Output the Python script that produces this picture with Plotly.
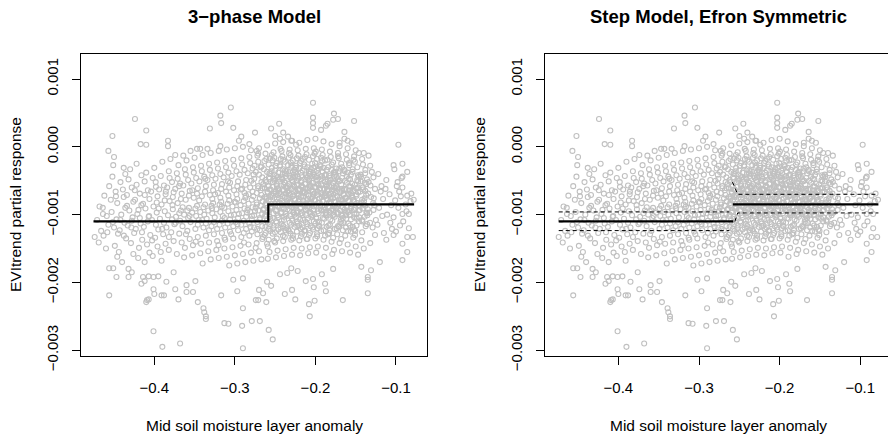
import plotly.graph_objects as go

# ---------------- data (x: soil moisture anomaly, y: partial response in units of 1e-3) -------------
upper_outliers = [
    (-0.452, 0.16), (-0.424, 0.41), (-0.410, 0.24), (-0.417, 0.04), (-0.410, 0.03), (-0.457, -0.06),
    (-0.450, -0.15), (-0.451, -0.27), (-0.438, -0.31), (-0.383, 0.09), (-0.383, 0.01), (-0.374, -0.12),
    (-0.364, -0.13), (-0.355, -0.06), (-0.347, -0.03), (-0.343, -0.03), (-0.334, -0.03), (-0.331, 0.27),
    (-0.318, 0.46), (-0.317, 0.35), (-0.305, 0.58), (-0.302, 0.28), (-0.318, 0.01), (-0.292, 0.15),
    (-0.295, 0.09), (-0.282, 0.04), (-0.275, 0.21), (-0.273, -0.06), (-0.271, -0.10), (-0.255, 0.27),
    (-0.250, 0.16), (-0.245, 0.34), (-0.244, 0.12), (-0.240, 0.21), (-0.234, 0.15), (-0.229, 0.09),
    (-0.224, 0.03), (-0.203, 0.65), (-0.203, 0.43), (-0.203, 0.35), (-0.203, 0.28), (-0.193, 0.25),
    (-0.187, 0.31), (-0.185, 0.34), (-0.177, 0.49), (-0.178, 0.40), (-0.172, 0.41), (-0.152, 0.38),
    (-0.164, 0.22), (-0.164, 0.12), (-0.160, 0.09), (-0.155, 0.06), (-0.170, 0.06), (-0.146, -0.09),
    (-0.134, -0.13), (-0.097, 0.03), (-0.103, -0.27), (-0.092, -0.25), (-0.086, -0.37), (-0.092, -0.44),
    (-0.081, -0.69), (-0.078, -0.78), (-0.092, -0.99), (-0.084, -0.99), (-0.464, -0.90),
]

lower_outliers = [
    (-0.474, -1.33), (-0.456, -1.79), (-0.451, -1.79), (-0.447, -1.92), (-0.456, -2.19), (-0.432, -1.80),
    (-0.432, -1.92), (-0.428, -1.85), (-0.416, -2.02), (-0.414, -1.92), (-0.412, -1.98), (-0.407, -1.91),
    (-0.401, -1.92), (-0.395, -1.91), (-0.401, -2.10), (-0.400, -2.17), (-0.410, -2.29), (-0.409, -2.26),
    (-0.407, -2.25), (-0.391, -2.19), (-0.388, -2.19), (-0.401, -2.72), (-0.390, -2.95), (-0.368, -2.90),
    (-0.370, -2.25), (-0.374, -2.10), (-0.385, -1.99), (-0.376, -1.85), (-0.360, -2.04), (-0.360, -2.14),
    (-0.352, -2.14), (-0.349, -1.98), (-0.346, -2.29), (-0.339, -2.38), (-0.338, -2.44), (-0.336, -2.50),
    (-0.336, -2.54), (-0.317, -2.19), (-0.313, -2.60), (-0.308, -2.61), (-0.302, -1.96), (-0.297, -2.13),
    (-0.290, -1.94), (-0.290, -2.38), (-0.291, -2.64), (-0.290, -2.97), (-0.279, -2.57), (-0.269, -2.57),
    (-0.258, -2.70), (-0.253, -2.84), (-0.274, -2.26), (-0.271, -2.26), (-0.270, -2.11), (-0.265, -2.16),
    (-0.261, -2.29), (-0.255, -2.05), (-0.260, -1.99), (-0.244, -1.88), (-0.238, -2.17), (-0.229, -2.11),
    (-0.225, -2.25), (-0.235, -1.86), (-0.230, -1.79), (-0.222, -1.83), (-0.212, -1.98), (-0.208, -2.32),
    (-0.207, -2.50), (-0.201, -2.27), (-0.203, -1.95), (-0.202, -2.07), (-0.192, -1.88), (-0.188, -2.02),
    (-0.187, -2.13), (-0.178, -1.80), (-0.166, -2.26), (-0.143, -1.77), (-0.135, -2.16), (-0.135, -1.92),
    (-0.135, -1.96), (-0.131, -1.82), (-0.120, -1.70), (-0.092, -1.67), (-0.086, -1.55), (-0.092, -1.43),
    (-0.086, -1.33), (-0.079, -1.33), (-0.103, -1.30), (-0.112, -1.37),
]

core_left = [
    (-0.471, -1.08), (-0.468, -0.88), (-0.466, -1.24), (-0.469, -1.41),
    (-0.462, -0.72), (-0.459, -1.02), (-0.457, -1.15), (-0.463, -1.31), (-0.456, -0.58), (-0.460, -1.50),
    (-0.452, -0.44), (-0.448, -0.66), (-0.446, -0.83), (-0.453, -0.96), (-0.447, -1.07), (-0.450, -1.19),
    (-0.445, -1.28), (-0.449, -1.46), (-0.454, -0.78), (-0.446, -1.62),
    (-0.442, -0.52), (-0.438, -0.74), (-0.436, -0.90), (-0.441, -1.00), (-0.437, -1.12), (-0.443, -1.23),
    (-0.435, -1.35), (-0.439, -0.63), (-0.444, -1.55), (-0.436, -0.40), (-0.440, -1.70),
    (-0.432, -0.48), (-0.428, -0.60), (-0.426, -0.81), (-0.431, -0.94), (-0.427, -1.04), (-0.433, -1.16),
    (-0.425, -1.27), (-0.429, -1.42), (-0.434, -0.71), (-0.426, -1.58), (-0.430, -0.33), (-0.428, -1.09),
    (-0.422, -0.56), (-0.418, -0.69), (-0.416, -0.86), (-0.421, -0.99), (-0.417, -1.13), (-0.423, -1.21),
    (-0.415, -1.37), (-0.419, -1.49), (-0.424, -0.78), (-0.416, -0.42), (-0.420, -1.64), (-0.418, -1.05),
    (-0.422, -0.25),
    (-0.412, -0.51), (-0.408, -0.64), (-0.406, -0.77), (-0.411, -0.91), (-0.407, -1.03), (-0.413, -1.18),
    (-0.405, -1.30), (-0.409, -1.44), (-0.414, -0.84), (-0.406, -1.56), (-0.410, -0.38), (-0.408, -1.10),
    (-0.412, -1.70),
    (-0.402, -0.46), (-0.398, -0.59), (-0.396, -0.73), (-0.401, -0.88), (-0.397, -0.97), (-0.403, -1.08),
    (-0.395, -1.22), (-0.399, -1.34), (-0.404, -0.66), (-0.396, -1.47), (-0.400, -0.31), (-0.398, -1.15),
    (-0.402, -1.61), (-0.397, -0.82),
    (-0.392, -0.43), (-0.388, -0.57), (-0.386, -0.70), (-0.391, -0.85), (-0.387, -0.95), (-0.393, -1.06),
    (-0.385, -1.19), (-0.389, -1.29), (-0.394, -0.63), (-0.386, -1.43), (-0.390, -0.22), (-0.388, -1.12),
    (-0.392, -1.55), (-0.387, -0.79), (-0.391, -1.68),
    (-0.382, -0.36), (-0.378, -0.52), (-0.376, -0.67), (-0.381, -0.80), (-0.377, -0.92), (-0.383, -1.01),
    (-0.375, -1.14), (-0.379, -1.26), (-0.384, -0.60), (-0.376, -1.39), (-0.380, -0.18), (-0.378, -1.07),
    (-0.382, -1.52), (-0.377, -0.74), (-0.381, -0.46),
    (-0.372, -0.39), (-0.368, -0.54), (-0.366, -0.69), (-0.371, -0.83), (-0.367, -0.94), (-0.373, -1.03),
    (-0.365, -1.17), (-0.369, -1.28), (-0.374, -0.62), (-0.366, -1.41), (-0.370, -0.27), (-0.368, -1.09),
    (-0.372, -1.58), (-0.367, -0.77), (-0.371, -0.47), (-0.369, -0.98),
    (-0.362, -0.33), (-0.358, -0.49), (-0.356, -0.65), (-0.361, -0.78), (-0.357, -0.90), (-0.363, -1.00),
    (-0.355, -1.11), (-0.359, -1.24), (-0.364, -0.57), (-0.356, -1.36), (-0.360, -0.20), (-0.358, -1.05),
    (-0.362, -1.49), (-0.357, -0.72), (-0.361, -0.41), (-0.359, -0.94), (-0.363, -1.63),
    (-0.352, -0.30), (-0.348, -0.46), (-0.346, -0.61), (-0.351, -0.75), (-0.347, -0.87), (-0.353, -0.97),
    (-0.345, -1.08), (-0.349, -1.21), (-0.354, -0.54), (-0.346, -1.33), (-0.350, -0.16), (-0.348, -1.02),
    (-0.352, -1.45), (-0.347, -0.69), (-0.351, -0.38), (-0.349, -0.91), (-0.353, -1.60), (-0.346, -1.15),
]

core_middle = [
    (-0.342, -0.28), (-0.338, -0.44), (-0.336, -0.58), (-0.341, -0.73), (-0.337, -0.85), (-0.343, -0.96),
    (-0.335, -1.06), (-0.339, -1.19), (-0.344, -0.51), (-0.336, -1.31), (-0.340, -0.12), (-0.338, -1.00),
    (-0.342, -1.43), (-0.337, -0.66), (-0.341, -0.36), (-0.339, -0.89), (-0.343, -1.57), (-0.336, -1.13),
    (-0.340, -1.72),
    (-0.332, -0.25), (-0.328, -0.42), (-0.326, -0.56), (-0.331, -0.71), (-0.327, -0.83), (-0.333, -0.94),
    (-0.325, -1.04), (-0.329, -1.17), (-0.334, -0.49), (-0.326, -1.29), (-0.330, -0.09), (-0.328, -0.98),
    (-0.332, -1.41), (-0.327, -0.64), (-0.331, -0.34), (-0.329, -0.87), (-0.333, -1.54), (-0.326, -1.11),
    (-0.330, -1.66), (-0.328, -0.77),
    (-0.322, -0.23), (-0.318, -0.40), (-0.316, -0.55), (-0.321, -0.68), (-0.317, -0.81), (-0.323, -0.92),
    (-0.315, -1.02), (-0.319, -1.15), (-0.324, -0.47), (-0.316, -1.27), (-0.320, -0.06), (-0.318, -0.96),
    (-0.322, -1.39), (-0.317, -0.62), (-0.321, -0.32), (-0.319, -0.85), (-0.323, -1.52), (-0.316, -1.09),
    (-0.320, -1.64), (-0.318, -0.75), (-0.322, -1.21),
    (-0.312, -0.21), (-0.308, -0.38), (-0.306, -0.53), (-0.311, -0.66), (-0.307, -0.79), (-0.313, -0.90),
    (-0.305, -1.01), (-0.309, -1.13), (-0.314, -0.45), (-0.306, -1.25), (-0.310, -0.04), (-0.308, -0.95),
    (-0.312, -1.37), (-0.307, -0.60), (-0.311, -0.30), (-0.309, -0.84), (-0.313, -1.50), (-0.306, -1.07),
    (-0.310, -1.62), (-0.308, -0.72), (-0.312, -1.19), (-0.307, -1.75),
    (-0.302, -0.19), (-0.298, -0.36), (-0.296, -0.51), (-0.301, -0.64), (-0.297, -0.77), (-0.303, -0.88),
    (-0.295, -0.99), (-0.299, -1.11), (-0.304, -0.43), (-0.296, -1.23), (-0.300, -0.02), (-0.298, -0.93),
    (-0.302, -1.35), (-0.297, -0.58), (-0.301, -0.28), (-0.299, -0.82), (-0.303, -1.48), (-0.296, -1.05),
    (-0.300, -1.60), (-0.298, -0.70), (-0.302, -1.17), (-0.297, -1.72), (-0.301, -1.00),
    (-0.292, -0.17), (-0.288, -0.34), (-0.286, -0.49), (-0.291, -0.62), (-0.287, -0.75), (-0.293, -0.86),
    (-0.285, -0.97), (-0.289, -1.09), (-0.294, -0.41), (-0.286, -1.21), (-0.290, 0.00), (-0.288, -0.91),
    (-0.292, -1.33), (-0.287, -0.56), (-0.291, -0.26), (-0.289, -0.80), (-0.293, -1.46), (-0.286, -1.03),
    (-0.290, -1.58), (-0.288, -0.68), (-0.292, -1.15), (-0.287, -1.70), (-0.291, -0.98), (-0.289, -1.27),
    (-0.282, -0.15), (-0.278, -0.32), (-0.276, -0.47), (-0.281, -0.60), (-0.277, -0.73), (-0.283, -0.84),
    (-0.275, -0.95), (-0.279, -1.07), (-0.284, -0.39), (-0.276, -1.19), (-0.280, -0.05), (-0.278, -0.89),
    (-0.282, -1.31), (-0.277, -0.54), (-0.281, -0.24), (-0.279, -0.78), (-0.283, -1.44), (-0.276, -1.01),
    (-0.280, -1.56), (-0.278, -0.66), (-0.282, -1.13), (-0.277, -1.68), (-0.281, -0.96), (-0.279, -1.25),
    (-0.283, -0.70),
    (-0.272, -0.13), (-0.268, -0.30), (-0.266, -0.45), (-0.271, -0.58), (-0.267, -0.71), (-0.273, -0.82),
    (-0.265, -0.93), (-0.269, -1.05), (-0.274, -0.37), (-0.266, -1.17), (-0.270, -0.02), (-0.268, -0.87),
    (-0.272, -1.29), (-0.267, -0.52), (-0.271, -0.22), (-0.269, -0.76), (-0.273, -1.42), (-0.266, -0.99),
    (-0.270, -1.54), (-0.268, -0.64), (-0.272, -1.11), (-0.267, -1.66), (-0.271, -0.94), (-0.269, -1.23),
    (-0.273, -0.68), (-0.266, -1.36), (-0.270, -0.41),
]

core_dense = [
    (-0.262, -0.10), (-0.258, -0.26), (-0.256, -0.40), (-0.261, -0.52), (-0.257, -0.63), (-0.263, -0.74),
    (-0.255, -0.84), (-0.259, -0.95), (-0.264, -0.33), (-0.256, -1.06), (-0.260, 0.02), (-0.258, -0.79),
    (-0.262, -1.18), (-0.257, -0.47), (-0.261, -0.18), (-0.259, -0.68), (-0.263, -1.30), (-0.256, -0.90),
    (-0.260, -1.43), (-0.258, -0.57), (-0.262, -1.00), (-0.257, -1.55), (-0.261, -0.86), (-0.259, -1.12),
    (-0.263, -0.61), (-0.256, -1.24), (-0.260, -0.37), (-0.264, -0.92), (-0.255, -0.71), (-0.258, -1.37),
    (-0.262, -0.49), (-0.257, -1.03), (-0.261, -0.77), (-0.259, -1.65),
    (-0.252, -0.08), (-0.248, -0.24), (-0.246, -0.38), (-0.251, -0.50), (-0.247, -0.61), (-0.253, -0.72),
    (-0.245, -0.82), (-0.249, -0.93), (-0.254, -0.31), (-0.246, -1.04), (-0.250, 0.05), (-0.248, -0.77),
    (-0.252, -1.16), (-0.247, -0.45), (-0.251, -0.16), (-0.249, -0.66), (-0.253, -1.28), (-0.246, -0.88),
    (-0.250, -1.41), (-0.248, -0.55), (-0.252, -0.98), (-0.247, -1.53), (-0.251, -0.84), (-0.249, -1.10),
    (-0.253, -0.59), (-0.246, -1.22), (-0.250, -0.35), (-0.254, -0.90), (-0.245, -0.69), (-0.248, -1.35),
    (-0.252, -0.47), (-0.247, -1.01), (-0.251, -0.75), (-0.249, -1.63), (-0.253, -0.20), (-0.246, -0.63),
    (-0.242, -0.06), (-0.238, -0.22), (-0.236, -0.36), (-0.241, -0.48), (-0.237, -0.59), (-0.243, -0.70),
    (-0.235, -0.80), (-0.239, -0.91), (-0.244, -0.29), (-0.236, -1.02), (-0.240, 0.07), (-0.238, -0.75),
    (-0.242, -1.14), (-0.237, -0.43), (-0.241, -0.14), (-0.239, -0.64), (-0.243, -1.26), (-0.236, -0.86),
    (-0.240, -1.39), (-0.238, -0.53), (-0.242, -0.96), (-0.237, -1.51), (-0.241, -0.82), (-0.239, -1.08),
    (-0.243, -0.57), (-0.236, -1.20), (-0.240, -0.33), (-0.244, -0.88), (-0.235, -0.67), (-0.238, -1.33),
    (-0.242, -0.45), (-0.237, -0.99), (-0.241, -0.73), (-0.239, -1.61), (-0.243, -0.18), (-0.236, -0.61),
    (-0.240, -1.17), (-0.238, -0.39),
    (-0.232, -0.04), (-0.228, -0.20), (-0.226, -0.34), (-0.231, -0.46), (-0.227, -0.57), (-0.233, -0.68),
    (-0.225, -0.78), (-0.229, -0.89), (-0.234, -0.27), (-0.226, -1.00), (-0.230, 0.09), (-0.228, -0.73),
    (-0.232, -1.12), (-0.227, -0.41), (-0.231, -0.12), (-0.229, -0.62), (-0.233, -1.24), (-0.226, -0.84),
    (-0.230, -1.37), (-0.228, -0.51), (-0.232, -0.94), (-0.227, -1.49), (-0.231, -0.80), (-0.229, -1.06),
    (-0.233, -0.55), (-0.226, -1.18), (-0.230, -0.31), (-0.234, -0.86), (-0.225, -0.65), (-0.228, -1.31),
    (-0.232, -0.43), (-0.227, -0.97), (-0.231, -0.71), (-0.229, -1.59), (-0.233, -0.16), (-0.226, -0.59),
    (-0.230, -1.15), (-0.228, -0.37),
    (-0.222, -0.05), (-0.218, -0.21), (-0.216, -0.35), (-0.221, -0.47), (-0.217, -0.58), (-0.223, -0.69),
    (-0.215, -0.79), (-0.219, -0.90), (-0.224, -0.28), (-0.216, -1.01), (-0.220, 0.06), (-0.218, -0.74),
    (-0.222, -1.13), (-0.217, -0.42), (-0.221, -0.13), (-0.219, -0.63), (-0.223, -1.25), (-0.216, -0.85),
    (-0.220, -1.38), (-0.218, -0.52), (-0.222, -0.95), (-0.217, -1.50), (-0.221, -0.81), (-0.219, -1.07),
    (-0.223, -0.56), (-0.216, -1.19), (-0.220, -0.32), (-0.224, -0.87), (-0.215, -0.66), (-0.218, -1.32),
    (-0.222, -0.44), (-0.217, -0.98), (-0.221, -0.72), (-0.219, -1.60), (-0.223, -0.17), (-0.216, -0.60),
    (-0.220, -1.16), (-0.218, -0.38),
    (-0.212, -0.03), (-0.208, -0.19), (-0.206, -0.33), (-0.211, -0.45), (-0.207, -0.56), (-0.213, -0.67),
    (-0.205, -0.77), (-0.209, -0.88), (-0.214, -0.26), (-0.206, -0.99), (-0.210, 0.10), (-0.208, -0.72),
    (-0.212, -1.11), (-0.207, -0.40), (-0.211, -0.11), (-0.209, -0.61), (-0.213, -1.23), (-0.206, -0.83),
    (-0.210, -1.36), (-0.208, -0.50), (-0.212, -0.93), (-0.207, -1.48), (-0.211, -0.79), (-0.209, -1.05),
    (-0.213, -0.54), (-0.206, -1.17), (-0.210, -0.30), (-0.214, -0.85), (-0.205, -0.64), (-0.208, -1.30),
    (-0.212, -0.42), (-0.207, -0.96), (-0.211, -0.70), (-0.209, -1.57), (-0.213, -0.15), (-0.206, -0.58),
    (-0.210, -1.14), (-0.208, -0.36),
    (-0.202, -0.02), (-0.198, -0.18), (-0.196, -0.32), (-0.201, -0.44), (-0.197, -0.55), (-0.203, -0.66),
    (-0.195, -0.76), (-0.199, -0.87), (-0.204, -0.25), (-0.196, -0.98), (-0.200, 0.12), (-0.198, -0.71),
    (-0.202, -1.10), (-0.197, -0.39), (-0.201, -0.10), (-0.199, -0.60), (-0.203, -1.22), (-0.196, -0.82),
    (-0.200, -1.35), (-0.198, -0.49), (-0.202, -0.92), (-0.197, -1.47), (-0.201, -0.78), (-0.199, -1.04),
    (-0.203, -0.53), (-0.196, -1.16), (-0.200, -0.29), (-0.204, -0.84), (-0.195, -0.63), (-0.198, -1.29),
    (-0.202, -0.41), (-0.197, -0.95), (-0.201, -0.69), (-0.199, -1.56), (-0.203, -0.14), (-0.196, -0.57),
    (-0.200, -1.13), (-0.198, -0.35),
    (-0.192, -0.04), (-0.188, -0.20), (-0.186, -0.34), (-0.191, -0.46), (-0.187, -0.57), (-0.193, -0.68),
    (-0.185, -0.78), (-0.189, -0.89), (-0.194, -0.27), (-0.186, -1.00), (-0.190, 0.08), (-0.188, -0.73),
    (-0.192, -1.12), (-0.187, -0.41), (-0.191, -0.12), (-0.189, -0.62), (-0.193, -1.24), (-0.186, -0.84),
    (-0.190, -1.37), (-0.188, -0.51), (-0.192, -0.94), (-0.187, -1.49), (-0.191, -0.80), (-0.189, -1.06),
    (-0.193, -0.55), (-0.186, -1.18), (-0.190, -0.31), (-0.194, -0.86), (-0.185, -0.65), (-0.188, -1.31),
    (-0.192, -0.43), (-0.187, -0.97), (-0.191, -0.71), (-0.189, -1.62), (-0.193, -0.16), (-0.186, -0.59),
    (-0.182, -0.07), (-0.178, -0.23), (-0.176, -0.37), (-0.181, -0.49), (-0.177, -0.60), (-0.183, -0.71),
    (-0.175, -0.81), (-0.179, -0.92), (-0.184, -0.30), (-0.176, -1.03), (-0.180, 0.04), (-0.178, -0.76),
    (-0.182, -1.15), (-0.177, -0.44), (-0.181, -0.15), (-0.179, -0.65), (-0.183, -1.27), (-0.176, -0.87),
    (-0.180, -1.40), (-0.178, -0.54), (-0.182, -0.97), (-0.177, -1.52), (-0.181, -0.83), (-0.179, -1.09),
    (-0.183, -0.58), (-0.176, -1.21), (-0.180, -0.34), (-0.184, -0.89), (-0.175, -0.68), (-0.178, -1.34),
    (-0.182, -0.46), (-0.177, -1.00), (-0.181, -0.74), (-0.179, -1.58),
    (-0.172, -0.09), (-0.168, -0.25), (-0.166, -0.39), (-0.171, -0.51), (-0.167, -0.62), (-0.173, -0.73),
    (-0.165, -0.83), (-0.169, -0.94), (-0.174, -0.32), (-0.166, -1.05), (-0.170, 0.01), (-0.168, -0.78),
    (-0.172, -1.17), (-0.167, -0.46), (-0.171, -0.17), (-0.169, -0.67), (-0.173, -1.29), (-0.166, -0.89),
    (-0.170, -1.42), (-0.168, -0.56), (-0.172, -0.99), (-0.167, -1.54), (-0.171, -0.85), (-0.169, -1.11),
    (-0.173, -0.60), (-0.166, -1.23), (-0.170, -0.36), (-0.174, -0.91), (-0.165, -0.70), (-0.168, -1.36),
    (-0.172, -0.48), (-0.167, -1.02),
    (-0.162, -0.11), (-0.158, -0.27), (-0.156, -0.41), (-0.161, -0.53), (-0.157, -0.64), (-0.163, -0.75),
    (-0.155, -0.85), (-0.159, -0.96), (-0.164, -0.34), (-0.156, -1.07), (-0.160, -0.02), (-0.158, -0.80),
    (-0.162, -1.19), (-0.157, -0.48), (-0.161, -0.19), (-0.159, -0.69), (-0.163, -1.31), (-0.156, -0.91),
    (-0.160, -1.44), (-0.158, -0.58), (-0.162, -1.01), (-0.157, -1.56), (-0.161, -0.87), (-0.159, -1.13),
    (-0.163, -0.62), (-0.156, -1.25), (-0.160, -0.38), (-0.164, -0.93), (-0.155, -0.72),
    (-0.152, -0.14), (-0.148, -0.30), (-0.146, -0.44), (-0.151, -0.56), (-0.147, -0.67), (-0.153, -0.78),
    (-0.145, -0.88), (-0.149, -0.99), (-0.154, -0.37), (-0.146, -1.10), (-0.150, -0.05), (-0.148, -0.83),
    (-0.152, -1.22), (-0.147, -0.51), (-0.151, -0.22), (-0.149, -0.72), (-0.153, -1.34), (-0.146, -0.94),
    (-0.150, -1.47), (-0.148, -0.61), (-0.152, -1.04), (-0.147, -1.59), (-0.151, -0.90), (-0.149, -1.16),
    (-0.153, -0.65),
]

core_fill = [
    (-0.2647, -0.55), (-0.2613, -0.83), (-0.2581, -1.21), (-0.2669, -0.29), (-0.2624, -1.02), (-0.2596, -0.66),
    (-0.2652, -1.33), (-0.2577, -0.45), (-0.2638, -0.91), (-0.2606, -0.74), (-0.2591, -1.47), (-0.2661, -0.61),
    (-0.2543, -0.36), (-0.2517, -0.69), (-0.2489, -0.95), (-0.2562, -1.14), (-0.2528, -0.52), (-0.2474, -0.81),
    (-0.2556, -0.63), (-0.2502, -1.26), (-0.2485, -0.43), (-0.2531, -1.05), (-0.2469, -0.71), (-0.2549, -0.88),
    (-0.2511, -1.39),
    (-0.2446, -0.47), (-0.2412, -0.79), (-0.2388, -1.03), (-0.2459, -0.62), (-0.2421, -0.91), (-0.2377, -0.35),
    (-0.2434, -1.19), (-0.2396, -0.56), (-0.2365, -0.84), (-0.2441, -0.27), (-0.2403, -1.31), (-0.2371, -0.69),
    (-0.2428, -0.98),
    (-0.2343, -0.58), (-0.2318, -0.83), (-0.2286, -1.09), (-0.2357, -0.40), (-0.2322, -0.71), (-0.2274, -0.96),
    (-0.2339, -1.22), (-0.2293, -0.49), (-0.2265, -0.77), (-0.2347, -0.92), (-0.2305, -0.23), (-0.2279, -1.35),
    (-0.2331, -0.64),
    (-0.2248, -0.44), (-0.2213, -0.70), (-0.2187, -0.99), (-0.2256, -0.86), (-0.2224, -1.17), (-0.2171, -0.57),
    (-0.2239, -0.31), (-0.2196, -0.79), (-0.2168, -1.28), (-0.2243, -1.04), (-0.2205, -0.62), (-0.2179, -0.90),
    (-0.2231, -0.50),
    (-0.2144, -0.68), (-0.2117, -0.92), (-0.2082, -0.39), (-0.2153, -1.08), (-0.2126, -0.55), (-0.2075, -0.81),
    (-0.2138, -1.24), (-0.2097, -0.46), (-0.2063, -0.97), (-0.2149, -0.73), (-0.2108, -1.36), (-0.2071, -0.60),
    (-0.2131, -0.87),
    (-0.2046, -0.53), (-0.2011, -0.79), (-0.1987, -1.06), (-0.2058, -0.37), (-0.2023, -0.94), (-0.1974, -0.66),
    (-0.2037, -1.19), (-0.1993, -0.45), (-0.1966, -0.83), (-0.2042, -1.01), (-0.2004, -0.24), (-0.1978, -1.32),
    (-0.2029, -0.70),
    (-0.1943, -0.61), (-0.1915, -0.87), (-0.1884, -0.42), (-0.1957, -1.11), (-0.1921, -0.74), (-0.1872, -0.98),
    (-0.1936, -0.29), (-0.1898, -1.23), (-0.1867, -0.55), (-0.1948, -0.82), (-0.1906, -1.05), (-0.1879, -0.68),
    (-0.1932, -0.93),
    (-0.1847, -0.49), (-0.1812, -0.76), (-0.1786, -1.01), (-0.1855, -0.63), (-0.1826, -0.88), (-0.1773, -0.38),
    (-0.1838, -1.16), (-0.1794, -0.57), (-0.1765, -0.81), (-0.1843, -1.29), (-0.1807, -0.69), (-0.1779, -0.94),
    (-0.1831, -0.43),
    (-0.1744, -0.58), (-0.1716, -0.84), (-0.1683, -1.07), (-0.1757, -0.41), (-0.1722, -0.97), (-0.1671, -0.65),
    (-0.1736, -1.20), (-0.1695, -0.50), (-0.1664, -0.79), (-0.1748, -0.90), (-0.1703, -0.32), (-0.1677, -1.13),
    (-0.1729, -0.72),
    (-0.1646, -0.63), (-0.1613, -0.88), (-0.1588, -0.47), (-0.1654, -1.12), (-0.1621, -0.76), (-0.1574, -1.00),
    (-0.1637, -0.36), (-0.1596, -1.24), (-0.1567, -0.59), (-0.1642, -0.84), (-0.1605, -0.95), (-0.1578, -0.70),
    (-0.1544, -0.54), (-0.1518, -0.80), (-0.1486, -1.06), (-0.1558, -0.68), (-0.1523, -0.93), (-0.1473, -0.42),
    (-0.1536, -1.18), (-0.1497, -0.61), (-0.1466, -0.86), (-0.1541, -0.75), (-0.1509, -1.30),
    (-0.1443, -0.66), (-0.1414, -0.91), (-0.1387, -0.53), (-0.1456, -1.04), (-0.1421, -0.78), (-0.1376, -1.17),
    (-0.1435, -0.44), (-0.1398, -0.85), (-0.1368, -0.97),
    (-0.1345, -0.69), (-0.1317, -0.57), (-0.1283, -0.83), (-0.1356, -1.01), (-0.1322, -1.12), (-0.1276, -0.76),
]

core_fill2 = [
    (-0.2633, -0.21), (-0.2594, -0.97), (-0.2571, -0.39), (-0.2619, -1.27), (-0.2588, -0.58), (-0.2655, -0.80),
    (-0.2602, -1.09), (-0.2566, -0.17), (-0.2537, -0.90), (-0.2496, -0.28), (-0.2523, -1.20), (-0.2478, -0.58),
    (-0.2559, -0.74), (-0.2507, -0.47), (-0.2482, -1.12), (-0.2541, -0.12), (-0.2437, -0.83), (-0.2398, -0.19),
    (-0.2419, -1.09), (-0.2381, -0.52), (-0.2452, -0.68), (-0.2406, -0.40), (-0.2369, -1.23), (-0.2433, -0.03),
    (-0.2336, -0.76), (-0.2297, -0.28), (-0.2314, -1.02), (-0.2283, -0.45), (-0.2352, -0.60), (-0.2309, -1.28),
    (-0.2271, -0.87), (-0.2327, -0.09), (-0.2234, -0.97), (-0.2193, -0.24), (-0.2216, -0.64), (-0.2182, -1.21),
    (-0.2251, -0.37), (-0.2207, -0.84), (-0.2174, -0.50), (-0.2229, -1.10), (-0.2133, -0.29), (-0.2094, -0.77),
    (-0.2115, -1.01), (-0.2079, -0.48), (-0.2156, -0.18), (-0.2103, -0.90), (-0.2068, -1.27), (-0.2124, -0.62),
    (-0.2035, -0.74), (-0.1996, -0.07), (-0.2018, -0.88), (-0.1983, -0.43), (-0.2052, -1.03), (-0.2007, -0.59),
    (-0.1971, -1.20), (-0.2026, -0.31), (-0.1938, -0.48), (-0.1894, -0.93), (-0.1917, -0.21), (-0.1881, -0.71),
    (-0.1953, -1.17), (-0.1909, -0.37), (-0.1873, -1.01), (-0.1927, -0.57), (-0.1833, -0.82), (-0.1797, -0.26),
    (-0.1815, -1.07), (-0.1782, -0.53), (-0.1851, -0.19), (-0.1806, -0.94), (-0.1768, -0.64), (-0.1824, -1.23),
    (-0.1738, -0.44), (-0.1694, -0.75), (-0.1719, -0.14), (-0.1681, -1.00), (-0.1752, -0.61), (-0.1706, -1.18),
    (-0.1669, -0.30), (-0.1727, -0.88), (-0.1633, -0.50), (-0.1595, -0.79), (-0.1617, -1.06), (-0.1583, -0.24),
    (-0.1651, -0.71), (-0.1608, -0.44), (-0.1572, -1.16), (-0.1626, -0.97), (-0.1538, -0.33), (-0.1494, -0.70),
    (-0.1517, -0.99), (-0.1481, -0.49), (-0.1553, -0.88), (-0.1506, -1.24), (-0.1469, -0.60), (-0.1527, -0.19),
    (-0.1437, -0.51), (-0.1396, -0.80), (-0.1418, -1.10), (-0.1382, -0.39), (-0.1451, -0.93), (-0.1407, -0.63),
    (-0.2795, -0.50), (-0.2742, -0.90), (-0.2788, -1.02), (-0.2711, -0.61), (-0.2756, -0.28), (-0.2723, -1.21),
]

left_fill = [
    (-0.4637, -0.99), (-0.4583, -1.26), (-0.4514, -1.11), (-0.4476, -0.73), (-0.4421, -1.08), (-0.4378, -1.31),
    (-0.4339, -0.87), (-0.4286, -1.19), (-0.4242, -0.64), (-0.4197, -0.93), (-0.4153, -1.26), (-0.4118, -0.71),
    (-0.4064, -1.02), (-0.4027, -1.38), (-0.3983, -0.52), (-0.3946, -0.91), (-0.3902, -1.21), (-0.3857, -0.66),
    (-0.3819, -1.33), (-0.3774, -0.86), (-0.3736, -1.12), (-0.3692, -0.58), (-0.3648, -0.89), (-0.3607, -1.29),
    (-0.3563, -1.02), (-0.3528, -0.64), (-0.3486, -1.40), (-0.3443, -0.79), (-0.3405, -1.08), (-0.3367, -0.47),
    (-0.3321, -1.23), (-0.3284, -0.91), (-0.3246, -0.70), (-0.3203, -1.45), (-0.3162, -0.88), (-0.3127, -1.05),
    (-0.3084, -0.51), (-0.3046, -1.29), (-0.3003, -0.81), (-0.2968, -1.14), (-0.2925, -0.63), (-0.2887, -1.41),
    (-0.2843, -0.93), (-0.2806, -1.18), (-0.2768, -0.41), (-0.2726, -0.85), (-0.2689, -1.07), (-0.2741, -1.49),
    (-0.2862, -0.72), (-0.3129, -1.34),
]

core_right = [
    (-0.142, -0.18), (-0.138, -0.34), (-0.136, -0.48), (-0.141, -0.60), (-0.137, -0.71), (-0.143, -0.82),
    (-0.135, -0.92), (-0.139, -1.03), (-0.144, -0.41), (-0.136, -1.14), (-0.140, -0.09), (-0.138, -0.87),
    (-0.142, -1.26), (-0.137, -0.55), (-0.141, -0.26), (-0.139, -0.76), (-0.143, -1.38), (-0.136, -0.98),
    (-0.140, -1.50), (-0.138, -0.65), (-0.142, -1.08),
    (-0.132, -0.28), (-0.128, -0.45), (-0.126, -0.62), (-0.131, -0.74), (-0.127, -0.86), (-0.133, -0.97),
    (-0.125, -1.08), (-0.129, -1.19), (-0.134, -0.52), (-0.126, -1.30), (-0.130, -0.37), (-0.128, -0.93),
    (-0.132, -1.42),
    (-0.122, -0.40), (-0.118, -0.58), (-0.116, -0.77), (-0.121, -0.90), (-0.117, -1.02), (-0.123, -1.15),
    (-0.119, -0.66), (-0.115, -1.27),
    (-0.112, -0.49), (-0.108, -0.70), (-0.106, -0.86), (-0.111, -1.00), (-0.107, -1.12), (-0.113, -0.62),
    (-0.105, -1.21),
    (-0.102, -0.33), (-0.098, -0.52), (-0.096, -0.66), (-0.101, -0.79), (-0.097, -0.90), (-0.103, -1.04),
    (-0.095, -1.16), (-0.099, -0.58), (-0.094, -0.73), (-0.100, -1.25), (-0.093, -0.46),
    (-0.092, -0.60), (-0.088, -0.85), (-0.086, -0.72), (-0.091, -1.10), (-0.087, -0.95), (-0.084, -1.20),
    (-0.082, -0.80),
]

# 3-phase model fit (y in 1e-3)
three_phase_x = [-0.4755, -0.2585, -0.2585, -0.0775]
three_phase_y = [-1.10, -1.10, -0.85, -0.85]

# Step model fit and Efron symmetric bootstrap band (y in 1e-3)
step_low_x = [-0.474, -0.2575]
step_low_y = [-1.10, -1.10]
step_high_x = [-0.258, -0.0775]
step_high_y = [-0.85, -0.85]
ci_upper_a_x = [-0.474, -0.2625]
ci_upper_a_y = [-0.96, -0.96]
ci_lower_a_x = [-0.474, -0.2625]
ci_lower_a_y = [-1.235, -1.235]
ci_upper_b_x = [-0.2585, -0.252, -0.0775]
ci_upper_b_y = [-0.52, -0.70, -0.70]
ci_lower_b_x = [-0.2555, -0.252, -0.0775]
ci_lower_b_y = [-1.10, -0.975, -0.975]

y_ticks = [-0.003, -0.002, -0.001, 0.0, 0.001]
y_tick_text = ["\u22120.003", "\u22120.002", "\u22120.001", "0.000", "0.001"]
x_ticks = [-0.4, -0.3, -0.2, -0.1]
x_tick_text = ["\u22120.4", "\u22120.3", "\u22120.2", "\u22120.1"]

titles = ["3\u2212phase Model", "Step Model, Efron Symmetric"]
x_title = "Mid soil moisture layer anomaly"
y_title = "EVItrend partial response"

# ---------------- figure ----------------
MILLI = 1e-3
all_points = (upper_outliers + lower_outliers + core_left + left_fill + core_middle
              + core_dense + core_fill + core_fill2 + core_right)
px_ = [p[0] for p in all_points]
py_ = [p[1] * MILLI for p in all_points]

FONT = "Liberation Sans, Arial, Helvetica, sans-serif"
W, H = 888, 436
fig = go.Figure()

point_style = dict(mode="markers", marker=dict(symbol="circle-open", size=5, color="#c0c0c0",
                                                 line=dict(width=1.1, color="#c0c0c0")),
                   hoverinfo="skip", showlegend=False)
fig.add_trace(go.Scatter(x=px_, y=py_, xaxis="x", yaxis="y", **point_style))
fig.add_trace(go.Scatter(x=px_, y=py_, xaxis="x2", yaxis="y2", **point_style))

solid = dict(color="black", width=2.2)
dashed = dict(color="black", width=1, dash="4px,3px")


def line(xs, ys, ax, style):
    fig.add_trace(go.Scatter(x=xs, y=[v * MILLI for v in ys], xaxis="x" + ax, yaxis="y" + ax,
                             mode="lines", line=style, hoverinfo="skip", showlegend=False))


line(three_phase_x, three_phase_y, "", solid)
line(ci_upper_a_x, ci_upper_a_y, "2", dashed)
line(ci_lower_a_x, ci_lower_a_y, "2", dashed)
line(ci_upper_b_x, ci_upper_b_y, "2", dashed)
line(ci_lower_b_x, ci_lower_b_y, "2", dashed)
line(step_low_x, step_low_y, "2", solid)
line(step_high_x, step_high_y, "2", solid)

top_px, bot_px = 54, 356.3
ydom = [1 - bot_px / H, 1 - top_px / H]
left_dom = [81 / W, 427 / W]
right_dom = [545 / W, 1.0]

common_x = dict(range=[-0.491, -0.0615], tickvals=x_ticks, ticktext=x_tick_text, ticks="outside",
                ticklen=8, tickwidth=1, tickcolor="black", showline=True, linecolor="black",
                linewidth=1, showgrid=False, zeroline=False, ticklabelstandoff=10, automargin=False,
                tickfont=dict(family=FONT, size=15, color="black"))
common_y = dict(range=[-0.003089, 0.001369], tickvals=y_ticks, ticktext=y_tick_text, ticks="outside",
                ticklen=8, tickwidth=1, tickcolor="black", showline=True, linecolor="black",
                linewidth=1, showgrid=False, zeroline=False, tickangle=-90, ticklabelstandoff=8,
                automargin=False, tickfont=dict(family=FONT, size=15, color="black"))

fig.update_layout(
    width=W, height=H, margin=dict(l=0, r=0, t=0, b=0, autoexpand=False),
    paper_bgcolor="white", plot_bgcolor="white",
    xaxis=dict(domain=left_dom, anchor="y", mirror=True, **common_x),
    yaxis=dict(domain=ydom, anchor="x", mirror=True, **common_y),
    xaxis2=dict(domain=right_dom, anchor="y2", mirror=True, **{**common_x, "range": [-0.491, -0.0656]}),
    yaxis2=dict(domain=ydom, anchor="x2", mirror=False, **common_y),
)

annotations = []
for title, cx, ylab_x in [(titles[0], 254, 15), (titles[1], 718, 479)]:
    annotations.append(dict(text="<b>" + title + "</b>", x=cx / W, y=1 - 16 / H, xref="paper", yref="paper",
                            showarrow=False, xanchor="center", yanchor="middle",
                            font=dict(family=FONT, size=18.5, color="black")))
    annotations.append(dict(text=x_title, x=cx / W, y=1 - 425 / H, xref="paper", yref="paper",
                            showarrow=False, xanchor="center", yanchor="middle",
                            font=dict(family=FONT, size=15.5, color="black")))
    annotations.append(dict(text=y_title, x=ylab_x / W, y=1 - 205 / H, xref="paper", yref="paper",
                            showarrow=False, xanchor="center", yanchor="middle", textangle=-90,
                            font=dict(family=FONT, size=15.5, color="black")))
fig.update_layout(annotations=annotations)

fig.write_html("out.html", config={"displayModeBar": False},
               post_script="document.body.style.margin='0';document.body.style.padding='0';"
                           "document.body.style.overflow='hidden';")
